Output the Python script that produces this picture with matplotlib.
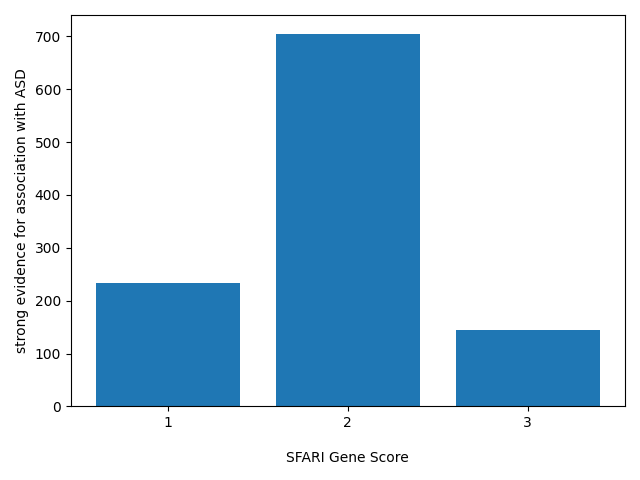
import matplotlib
matplotlib.use("Agg")
import matplotlib.pyplot as plt

scores = ["1", "2", "3"]
counts = [233, 705, 144]

fig, ax = plt.subplots(figsize=(6.4, 4.8), dpi=100)
ax.bar(scores, counts, color="#1f77b4")
ax.set_xlabel("SFARI Gene Score", labelpad=15)
ax.set_ylabel("strong evidence for association with ASD")
fig.tight_layout()
fig.savefig("out.png")
